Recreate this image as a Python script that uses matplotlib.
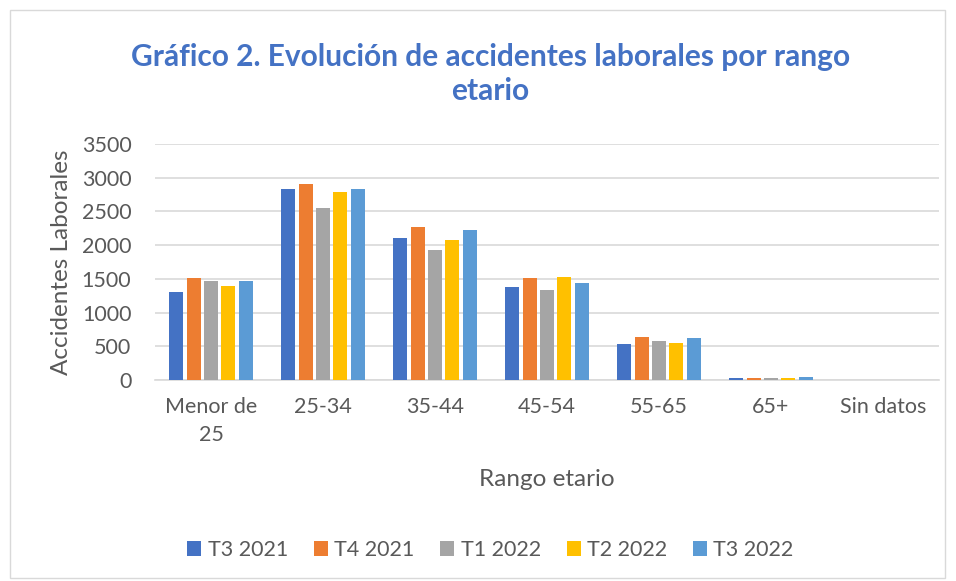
import numpy as np
import matplotlib.pyplot as plt
from matplotlib.patches import Rectangle

# accidentes laborales por rango etario y trimestre
categorias = ["Menor de\n25", "25-34", "35-44", "45-54", "55-65", "65+", "Sin datos"]
series = ["T3 2021", "T4 2021", "T1 2022", "T2 2022", "T3 2022"]
t3_2021 = [1300, 2833, 2102, 1377, 530, 30, 0]
t4_2021 = [1511, 2907, 2271, 1511, 634, 35, 0]
t1_2022 = [1461, 2550, 1928, 1337, 574, 30, 0]
t2_2022 = [1397, 2793, 2077, 1521, 554, 35, 0]
t3_2022 = [1466, 2838, 2227, 1436, 624, 40, 0]
colores = ["#4472C4", "#ED7D31", "#A5A5A5", "#FFC000", "#5B9BD5"]

plt.rcParams['font.family'] = ['Lato', 'DejaVu Sans']

fig = plt.figure(figsize=(9.56, 5.81), dpi=100)
# borde del grafico
fig.patches.append(Rectangle((10 / 956, 3 / 581), 935 / 956, 568 / 581, transform=fig.transFigure,
                             fill=False, edgecolor="#D9D9D9", linewidth=1))

ax = fig.add_axes([155 / 956, 1 - 380 / 581, 784 / 956, 236 / 581])

x = np.arange(len(categorias))
paso = 0.155
datos = [t3_2021, t4_2021, t1_2022, t2_2022, t3_2022]
for i, (nombre, valores) in enumerate(zip(series, datos)):
    ax.bar(x + (i - 2) * paso, valores, width=0.125, color=colores[i], label=nombre, zorder=3)

ax.set_xlim(-0.5, len(categorias) - 0.5)
ax.set_ylim(0, 3500)
ax.set_yticks(range(0, 3501, 500))
ax.set_xticks(x)
ax.set_xticklabels(categorias, linespacing=1.55)
ax.grid(axis="y", color="#D9D9D9", linewidth=1.2, zorder=0)
for s in ["top", "right", "left"]:
    ax.spines[s].set_visible(False)
ax.spines["bottom"].set_color("#D9D9D9")
ax.spines["bottom"].set_linewidth(1.2)
ax.tick_params(axis="both", length=0, labelsize=15.5, labelcolor="#595959")
ax.tick_params(axis="x", pad=12)
ax.tick_params(axis="y", pad=17)

ax.set_ylabel("Accidentes Laborales", fontsize=17.5, color="#595959", labelpad=7)
ax.set_xlabel("Rango etario", fontsize=17.5, color="#595959", labelpad=17)

fig.text(0.513, 1 - 74 / 581, "Gráfico 2. Evolución de accidentes laborales por rango\netario",
         ha="center", va="center", fontsize=21.5, fontweight="bold", color="#4472C4",
         linespacing=1.3)

fig.legend(loc="center", bbox_to_anchor=(0.513, 1 - 550 / 581), ncol=5, frameon=False,
           fontsize=15.5, labelcolor="#595959", handlelength=0.65, handleheight=0.65,
           handletextpad=0.3, columnspacing=1.2)

fig.savefig("out.png", dpi=100)
